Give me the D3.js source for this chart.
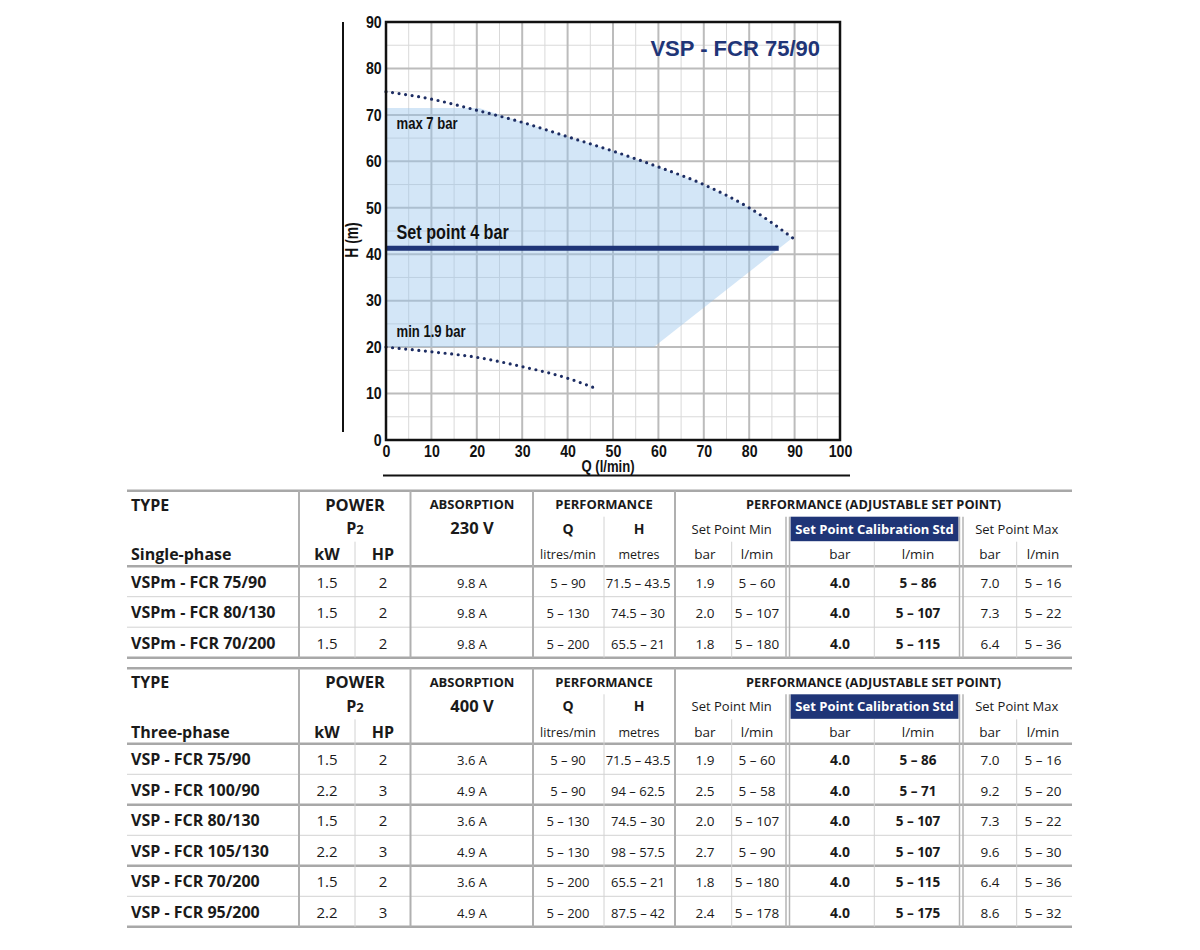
<!DOCTYPE html>
<html>
<head>
<meta charset="utf-8">
<script src="https://cdn.jsdelivr.net/npm/d3@7"></script>
<style>
  body { margin: 0; background: #fff; }
  .cond { font-family: "Liberation Sans", Arial, sans-serif; font-weight: bold; fill: #111; }
  .tbl { font-family: "Open Sans", "Noto Sans", sans-serif; fill: #1a1a1a; }
</style>
</head>
<body>
<div id="chart"></div>
<script>
// ---- chart data (Q in l/min, H in m) ----
var maxQ = [0, 10, 20, 30, 40, 50, 60, 70, 80, 90];
var maxH = [75, 73.4, 71, 68.4, 65.3, 62.2, 58.8, 55, 50, 43.2];
var minQ = [0, 10, 20, 30, 40, 46];
var minH = [20, 19, 17.8, 15.8, 13.3, 11.2];
var areaQ = [0, 0, 20.5, 30, 40, 50, 60, 70, 80, 89.5, 59, 0];
var areaH = [20, 71.5, 71.5, 68.4, 65.3, 62.2, 58.8, 55, 50, 43.5, 20, 20];
var setPointQ = [0, 86.5];
var setPointH = [41.3, 41.3];
var xTicks = [0, 10, 20, 30, 40, 50, 60, 70, 80, 90, 100];
var yTicks = [0, 10, 20, 30, 40, 50, 60, 70, 80, 90];

// ---- table data ----
var headSingle = ["Single-phase", "230 V"];
var headThree = ["Three-phase", "400 V"];

var singleType = ["VSPm - FCR 75/90", "VSPm - FCR 80/130", "VSPm - FCR 70/200"];
var singleKw = ["1.5", "1.5", "1.5"];
var singleHp = ["2", "2", "2"];
var singleAmp = ["9.8 A", "9.8 A", "9.8 A"];
var singleQ = ["5 – 90", "5 – 130", "5 – 200"];
var singleH = ["71.5 – 43.5", "74.5 – 30", "65.5 – 21"];
var singleMinBar = ["1.9", "2.0", "1.8"];
var singleMinQ = ["5 – 60", "5 – 107", "5 – 180"];
var singleStdBar = ["4.0", "4.0", "4.0"];
var singleStdQ = ["5 – 86", "5 – 107", "5 – 115"];
var singleMaxBar = ["7.0", "7.3", "6.4"];
var singleMaxQ = ["5 – 16", "5 – 22", "5 – 36"];

var threeType = ["VSP - FCR 75/90", "VSP - FCR 100/90", "VSP - FCR 80/130", "VSP - FCR 105/130", "VSP - FCR 70/200", "VSP - FCR 95/200"];
var threeKw = ["1.5", "2.2", "1.5", "2.2", "1.5", "2.2"];
var threeHp = ["2", "3", "2", "3", "2", "3"];
var threeAmp = ["3.6 A", "4.9 A", "3.6 A", "4.9 A", "3.6 A", "4.9 A"];
var threeQ = ["5 – 90", "5 – 90", "5 – 130", "5 – 130", "5 – 200", "5 – 200"];
var threeH = ["71.5 – 43.5", "94 – 62.5", "74.5 – 30", "98 – 57.5", "65.5 – 21", "87.5 – 42"];
var threeMinBar = ["1.9", "2.5", "2.0", "2.7", "1.8", "2.4"];
var threeMinQ = ["5 – 60", "5 – 58", "5 – 107", "5 – 90", "5 – 180", "5 – 178"];
var threeStdBar = ["4.0", "4.0", "4.0", "4.0", "4.0", "4.0"];
var threeStdQ = ["5 – 86", "5 – 71", "5 – 107", "5 – 107", "5 – 115", "5 – 175"];
var threeMaxBar = ["7.0", "9.2", "7.3", "9.6", "6.4", "8.6"];
var threeMaxQ = ["5 – 16", "5 – 20", "5 – 22", "5 – 30", "5 – 36", "5 – 32"];

var navy = "#1f3577";
var svg = d3.select("#chart").append("svg")
  .attr("width", 1200)
  .attr("height", 950);

// ================= chart =================
var x = d3.scaleLinear().domain([0, 100]).range([386, 840]);
var y = d3.scaleLinear().domain([0, 90]).range([440, 22]);

var plot = svg.append("g");

// minor grid (every 5)
plot.selectAll(".vminor").data(d3.range(5, 100, 10)).enter().append("line")
  .attr("x1", d => x(d)).attr("x2", d => x(d))
  .attr("y1", y(0)).attr("y2", y(90))
  .attr("stroke", "#d9d9d9").attr("stroke-width", 1);
plot.selectAll(".hminor").data(d3.range(5, 90, 10)).enter().append("line")
  .attr("y1", d => y(d)).attr("y2", d => y(d))
  .attr("x1", x(0)).attr("x2", x(100))
  .attr("stroke", "#d9d9d9").attr("stroke-width", 1);
// major grid (every 10)
plot.selectAll(".vmajor").data(xTicks).enter().append("line")
  .attr("x1", d => x(d)).attr("x2", d => x(d))
  .attr("y1", y(0)).attr("y2", y(90))
  .attr("stroke", "#bcbcbc").attr("stroke-width", 2);
plot.selectAll(".hmajor").data(yTicks).enter().append("line")
  .attr("y1", d => y(d)).attr("y2", d => y(d))
  .attr("x1", x(0)).attr("x2", x(100))
  .attr("stroke", "#bcbcbc").attr("stroke-width", 2);

// working area
var areaPts = areaQ.map((q, i) => [x(q), y(areaH[i])]);
plot.append("path")
  .attr("d", d3.line()(areaPts) + "Z")
  .attr("fill", "rgb(150,196,236)")
  .attr("fill-opacity", 0.42);

// set point line
plot.append("line")
  .attr("x1", x(setPointQ[0])).attr("x2", x(setPointQ[1]))
  .attr("y1", y(setPointH[0])).attr("y2", y(setPointH[1]))
  .attr("stroke", navy).attr("stroke-width", 5);

// dotted curves
var curve = d3.line().curve(d3.curveMonotoneX);
[[maxQ, maxH], [minQ, minH]].forEach(c => {
  plot.append("path")
    .attr("d", curve(c[0].map((q, i) => [x(q), y(c[1][i])])))
    .attr("fill", "none").attr("stroke", "#1d2d63")
    .attr("stroke-width", 3.2).attr("stroke-linecap", "round")
    .attr("stroke-dasharray", "0,6.6");
});

// frame
plot.append("rect")
  .attr("x", x(0)).attr("y", y(90))
  .attr("width", x(100) - x(0)).attr("height", y(0) - y(90))
  .attr("fill", "none").attr("stroke", "#111").attr("stroke-width", 2.5);

// axes
var leftAxis = d3.axisLeft(y).tickValues(yTicks).tickSize(0).tickPadding(5);
var bottomAxis = d3.axisBottom(x).tickValues(xTicks).tickSize(0).tickPadding(5);
var ya = svg.append("g").attr("transform", `translate(${x(0)},0)`).call(leftAxis);
var xa = svg.append("g").attr("transform", `translate(0,${y(0)})`).call(bottomAxis);
[ya, xa].forEach(a => {
  a.select(".domain").remove();
  a.selectAll("text").attr("class", "cond").attr("font-size", 16.5)
    .attr("transform", "scale(0.86,1)");
});

// condensed label helper (horizontal squeeze of a bold sans)
function condLabel(tx, ty, rot, s, size, anchor) {
  return svg.append("text").attr("class", "cond")
    .attr("transform", `translate(${tx},${ty}) rotate(${rot}) scale(0.77,1)`)
    .attr("text-anchor", anchor)
    .attr("font-size", size)
    .text(s);
}

// axis titles and side rules
condLabel(357.5, 240, -90, "H (m)", 18, "middle");
svg.append("line").attr("x1", 343).attr("x2", 343).attr("y1", 22).attr("y2", 432)
  .attr("stroke", "#111").attr("stroke-width", 2);
condLabel(608, 471.5, 0, "Q (l/min)", 17, "middle");
svg.append("line").attr("x1", 383).attr("x2", 850).attr("y1", 475.5).attr("y2", 475.5)
  .attr("stroke", "#111").attr("stroke-width", 2);

// labels in the plot
svg.append("text").attr("x", 820).attr("y", 55.5).attr("text-anchor", "end")
  .attr("font-family", "Liberation Sans, Arial, sans-serif").attr("font-weight", "bold")
  .attr("font-size", 22).attr("fill", navy)
  .text("VSP - FCR 75/90");
condLabel(396.5, 128.5, 0, "max 7 bar", 17, "start");
condLabel(396.5, 238.5, 0, "Set point 4 bar", 21, "start");
condLabel(396.5, 337, 0, "min 1.9 bar", 17, "start");

// ================= tables =================
var colLeft = 127, colRight = 1072;
var headH = 75.5, rowH = 30.5;

function txt(g, xp, yp, s, size, bold, anchor, fill) {
  return g.append("text").attr("class", "tbl")
    .attr("x", xp).attr("y", yp)
    .attr("font-size", size)
    .attr("font-weight", bold ? "bold" : "normal")
    .attr("text-anchor", anchor || "middle")
    .style("fill", fill || "#1a1a1a")
    .text(s);
}

function hline(g, yp, thick) {
  g.append("line").attr("x1", colLeft).attr("x2", colRight)
    .attr("y1", yp).attr("y2", yp)
    .attr("stroke", thick ? "#a8a8a8" : "#d2d2d2")
    .attr("stroke-width", thick ? 2.5 : 1);
}

function vline(g, xp, y1, y2, color, w) {
  g.append("line").attr("x1", xp).attr("x2", xp)
    .attr("y1", y1).attr("y2", y2)
    .attr("stroke", color).attr("stroke-width", w);
}

function drawTable(top, head, cols, groupSize) {
  var g = svg.append("g");
  var n = cols[0].length;
  var bottom = top + headH + n * rowH;

  // navy header cell
  g.append("rect").attr("x", 790.5).attr("y", top + 26)
    .attr("width", 168).attr("height", 24.5).attr("fill", navy);

  // lines
  hline(g, top, true);
  hline(g, top + headH, true);
  for (var i = 1; i < n; i++) {
    hline(g, top + headH + i * rowH, i % groupSize === 0);
  }
  hline(g, bottom, true);

  [299, 410.5, 533, 675].forEach(v => vline(g, v, top, bottom, "#b0b0b0", 2));
  [786, 789.5, 959.5, 963].forEach(v => vline(g, v, top + 26, bottom, "#b4b4b4", 1.5));
  vline(g, 604, top + 26, bottom, "#d2d2d2", 1);
  [355, 731.7, 874.3, 1016.7].forEach(v => vline(g, v, top + 51, bottom, "#d2d2d2", 1));

  // header texts
  txt(g, 131, top + 20, "TYPE", 16, true, "start");
  txt(g, 355, top + 20, "POWER", 16.5, true);
  txt(g, 472, top + 18.5, "ABSORPTION", 13, true);
  txt(g, 604, top + 18.5, "PERFORMANCE", 13, true);
  txt(g, 873.5, top + 18.5, "PERFORMANCE (ADJUSTABLE SET POINT)", 12.8, true);

  var p2 = txt(g, 355, top + 43.5, "P", 16, true);
  p2.append("tspan").attr("font-size", 13).text("2");
  txt(g, 472, top + 43.5, head[1], 16.5, true);
  txt(g, 568, top + 43, "Q", 14, true);
  txt(g, 639, top + 43, "H", 14, true);
  txt(g, 731.7, top + 43, "Set Point Min", 13, false);
  txt(g, 874.5, top + 43, "Set Point Calibration Std", 13, true, "middle", "#fff");
  txt(g, 1016.7, top + 43, "Set Point Max", 13, false);

  txt(g, 131, top + 69.5, head[0], 16, true, "start");
  txt(g, 327, top + 69.5, "kW", 16, true);
  txt(g, 383, top + 69.5, "HP", 16, true);
  txt(g, 568, top + 68.5, "litres/min", 12.5, false);
  txt(g, 639, top + 68.5, "metres", 12.5, false);
  [[705, "bar"], [757, "l/min"], [840, "bar"], [918, "l/min"], [990, "bar"], [1043, "l/min"]]
    .forEach(c => txt(g, c[0], top + 68.5, c[1], 13.5, false));

  // body
  var spec = [
    [131, 16, true, "start"],
    [327, 15, false],
    [383, 15, false],
    [472, 13, false],
    [568, 13, false],
    [638, 13, false],
    [705, 13.5, false],
    [757, 13.5, false],
    [840, 14, true],
    [918, 13.5, true],
    [990, 13.5, false],
    [1043, 13.5, false]
  ];
  for (var r = 0; r < n; r++) {
    var base = top + headH + r * rowH + 21.5;
    cols.forEach((col, c) => {
      var s = spec[c];
      txt(g, s[0], base, col[r], s[1], s[2], s[3] || "middle");
    });
  }
}

drawTable(490.7, headSingle,
  [singleType, singleKw, singleHp, singleAmp, singleQ, singleH,
   singleMinBar, singleMinQ, singleStdBar, singleStdQ, singleMaxBar, singleMaxQ], 99);

drawTable(668.3, headThree,
  [threeType, threeKw, threeHp, threeAmp, threeQ, threeH,
   threeMinBar, threeMinQ, threeStdBar, threeStdQ, threeMaxBar, threeMaxQ], 2);
</script>
</body>
</html>
